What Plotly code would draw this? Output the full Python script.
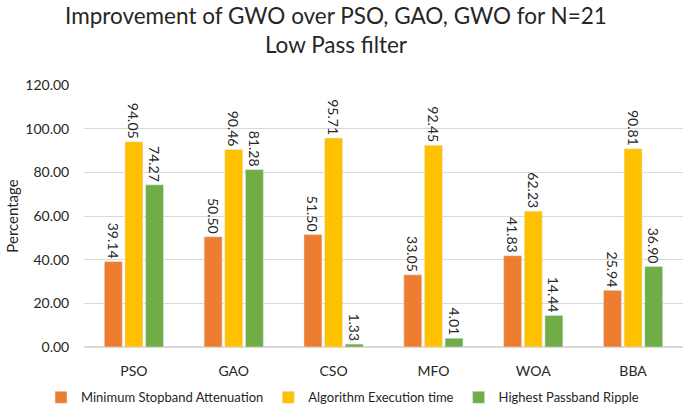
import plotly.graph_objects as go

categories = ["PSO", "GAO", "CSO", "MFO", "WOA", "BBA"]
min_stopband = [39.14, 50.50, 51.50, 33.05, 41.83, 25.94]
exec_time = [94.05, 90.46, 95.71, 92.45, 62.23, 90.81]
passband_ripple = [74.27, 81.28, 1.33, 4.01, 14.44, 36.90]
series_names = ["Minimum Stopband Attenuation", "Algorithm Execution time", "Highest Passband Ripple"]
colors = ["#ED7D31", "#FFC000", "#70AD47"]
title_text = "Improvement of GWO over PSO, GAO, GWO for N=21<br>Low Pass filter"

fig = go.Figure()
for name, vals, col in zip(series_names, [min_stopband, exec_time, passband_ripple], colors):
    fig.add_trace(go.Bar(
        x=categories, y=vals, name=name, marker_color=col,
        text=[f"{v:.2f}" for v in vals], textposition="outside", textangle=90,
        textfont=dict(size=14, color="#262626"), cliponaxis=False,
    ))

fig.update_layout(
    width=685, height=415,
    margin=dict(l=84, r=2, t=85, b=68, autoexpand=False),
    paper_bgcolor="white", plot_bgcolor="white",
    font=dict(family="Lato, Liberation Sans, sans-serif", color="#262626"),
    barmode="group", bargap=0.38, bargroupgap=0.13,
    showlegend=True,
    legend=dict(orientation="h", xref="container", x=0.5, xanchor="center",
                y=-0.135, yanchor="top",
                font=dict(size=13), traceorder="normal", itemwidth=30),
    uniformtext=dict(minsize=14, mode="show"),
    annotations=[dict(text=title_text, xref="paper", yref="paper", x=0.42, y=1.325,
                      xanchor="center", yanchor="top", showarrow=False,
                      font=dict(size=22.5, color="#262626"))],
)
fig.update_yaxes(range=[0, 120], dtick=20, tickformat=".2f", showgrid=True,
                 gridcolor="#d9d9d9", zeroline=True, zerolinecolor="#d9d9d9",
                 tickfont=dict(size=14), ticks="outside", ticklen=11,
                 tickcolor="rgba(0,0,0,0)",
                 title=dict(text="Percentage", font=dict(size=15), standoff=3))
fig.update_xaxes(tickfont=dict(size=14), showline=False, ticks="", ticklabelstandoff=14)

fig.write_html("out.html", config={"displayModeBar": False},
               post_script="document.body.style.margin='0';")
